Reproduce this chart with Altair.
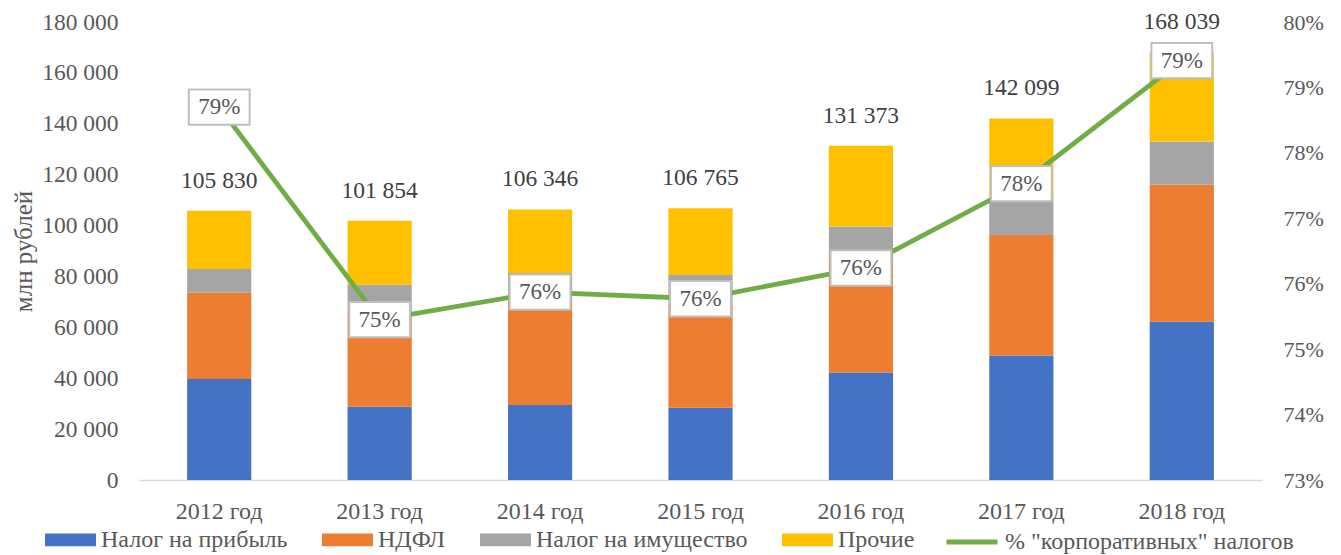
import altair as alt
import pandas as pd

years = ["2012 год", "2013 год", "2014 год", "2015 год", "2016 год", "2017 год", "2018 год"]
profit_tax = [39700, 28800, 29500, 28400, 42200, 48900, 62200]
ndfl = [33900, 37200, 41000, 41100, 44300, 47400, 53800]
property_tax = [9300, 10700, 10900, 11100, 13100, 14500, 17000]
totals = [105830, 101854, 106346, 106765, 131373, 142099, 168039]
corp_share = [78.7, 75.45, 75.87, 75.77, 76.24, 77.53, 79.41]

series_names = ["Налог на прибыль", "НДФЛ", "Налог на имущество", "Прочие"]
series_colors = ["#4472C4", "#ED7D31", "#A5A5A5", "#FFC000"]
line_name = '% "корпоративных" налогов'

other = [t - a - b - c for t, a, b, c in zip(totals, profit_tax, ndfl, property_tax)]

rows = []
for i, y in enumerate(years):
    for k, (name, vals) in enumerate(zip(series_names, [profit_tax, ndfl, property_tax, other])):
        rows.append({"year": y, "series": name, "value": vals[i], "idx": k})
bars_df = pd.DataFrame(rows)
tot_df = pd.DataFrame({"year": years, "total": totals})
line_df = pd.DataFrame({"year": years, "share": corp_share, "series": [line_name] * len(years)})

FONT = "Liberation Serif"
TXT = "#595959"

x_enc = alt.X("year:N", sort=years, title=None,
              scale=alt.Scale(paddingInner=0.6, paddingOuter=0.3),
              axis=alt.Axis(labelAngle=0, ticks=False, domainColor="#D9D9D9", domainWidth=1.5,
                            labelPadding=19, labelFont=FONT, labelFontSize=24, labelColor=TXT))

y_left = alt.Y("value:Q", stack="zero", title="млн рублей",
               scale=alt.Scale(domain=[0, 180000], nice=False),
               axis=alt.Axis(values=list(range(0, 180001, 20000)), grid=False, ticks=False, domain=False,
                             labelExpr="replace(format(datum.value, ','), regexp(',', 'g'), ' ')",
                             labelPadding=21, labelFont=FONT, labelFontSize=23.5, labelColor=TXT,
                             titleFont=FONT, titleFontSize=25, titleColor=TXT, titleFontWeight="normal",
                             titleX=-116, titleY=229, titleBaseline="middle", titleAngle=270))

bars = alt.Chart(bars_df).mark_bar().encode(
    x=x_enc,
    y=y_left,
    fill=alt.Fill("series:N", scale=alt.Scale(domain=series_names, range=series_colors),
                  legend=alt.Legend(title=None, orient="none", direction="horizontal",
                                    legendX=-94, legendY=492,
                                    symbolType="M-1,-0.25L1,-0.25L1,0.25L-1,0.25Z", symbolSize=2601,
                                    symbolStrokeWidth=0, columnPadding=34, labelOffset=5,
                                    labelFont=FONT, labelFontSize=24, labelColor=TXT, labelLimit=400)),
    order=alt.Order("idx:Q", sort="ascending"),
)

totals_text = alt.Chart(tot_df).transform_calculate(
    lbl="replace(format(datum.total, ','), regexp(',', 'g'), ' ')"
).mark_text(font=FONT, fontSize=23.5, color="#404040", baseline="middle", dy=-30).encode(
    x=alt.X("year:N", sort=years),
    y=alt.Y("total:Q", scale=alt.Scale(domain=[0, 180000], nice=False)),
    text="lbl:N",
)

left = alt.layer(bars, totals_text)

y_right = alt.Y("share:Q", title=None,
                scale=alt.Scale(domain=[73, 80], nice=False),
                axis=alt.Axis(orient="right", values=list(range(73, 81)), grid=False, ticks=False, domain=False,
                              labelExpr="datum.value + '%'", labelPadding=21,
                              labelFont=FONT, labelFontSize=22, labelColor=TXT))

line = alt.Chart(line_df).mark_line(strokeWidth=4.8).encode(
    x=alt.X("year:N", sort=years),
    y=y_right,
    stroke=alt.Stroke("series:N", scale=alt.Scale(domain=[line_name], range=["#70AD47"]),
                      legend=alt.Legend(title=None, orient="none", direction="horizontal",
                                        legendX=805, legendY=492,
                                        symbolType="stroke", symbolSize=2601, symbolStrokeWidth=4.8,
                                        labelOffset=5, labelFont=FONT, labelFontSize=24,
                                        labelColor=TXT, labelLimit=500)),
)

boxes = alt.Chart(line_df).mark_point(
    shape="M-1,-0.58L1,-0.58L1,0.58L-1,0.58Z", size=3700, filled=True,
    fill="white", stroke="#BFBFBF", strokeWidth=2, opacity=1
).encode(
    x=alt.X("year:N", sort=years),
    y=alt.Y("share:Q", scale=alt.Scale(domain=[73, 80], nice=False)),
)

pct_text = alt.Chart(line_df).transform_calculate(
    lbl="format(datum.share, '.0f') + '%'"
).mark_text(font=FONT, fontSize=23, color=TXT, baseline="middle").encode(
    x=alt.X("year:N", sort=years),
    y=alt.Y("share:Q", scale=alt.Scale(domain=[73, 80], nice=False)),
    text="lbl:N",
)

right = alt.layer(line, boxes, pct_text)

chart = alt.layer(left, right).resolve_scale(y="independent").properties(
    width=1123, height=458,
    autosize=alt.AutoSizeParams(type="none"),
    padding={"left": 139, "top": 22, "right": 79, "bottom": 75},
    background="white",
).configure_view(stroke=None)

chart.save("out.html", embed_options={"renderer": "svg", "actions": False})
